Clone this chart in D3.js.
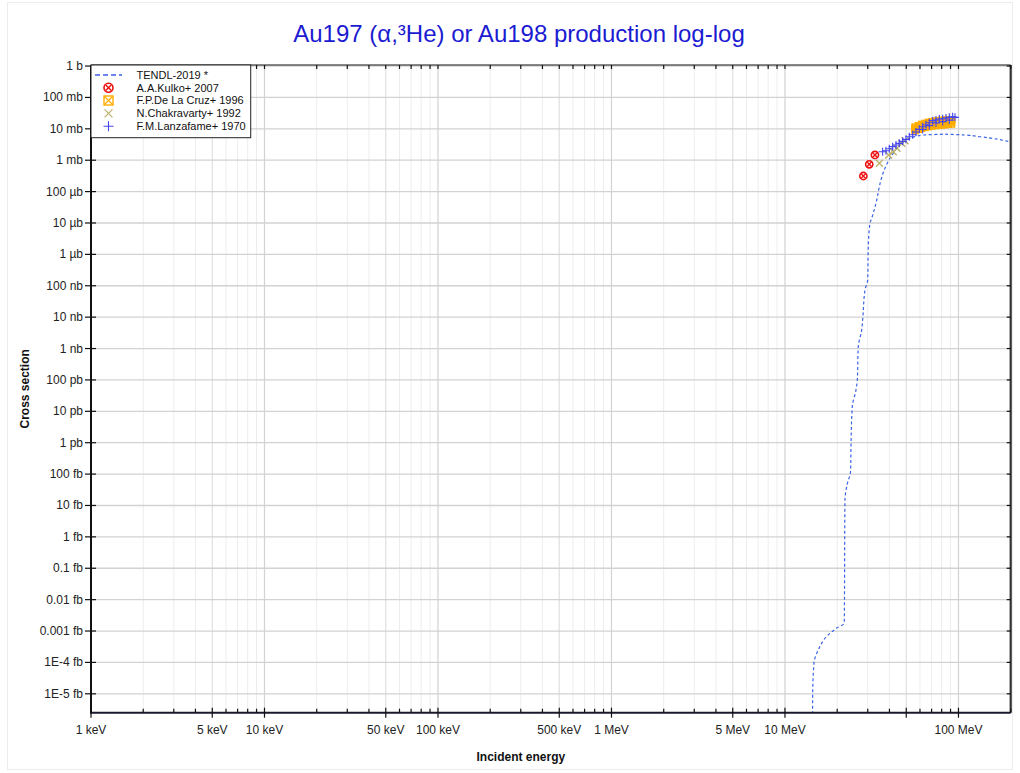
<!DOCTYPE html>
<html><head><meta charset="utf-8">
<script src="https://cdn.jsdelivr.net/npm/d3@7"></script>
<style>
body{margin:0;background:#fff;}
svg{display:block;font-family:"Liberation Sans",Arial,Helvetica,sans-serif;}
</style>
</head><body>
<svg id="chart" width="1020" height="773"></svg>
<script>
// ---------- DATA ----------
const titleText = "Au197 (α,³He) or Au198 production log-log";
const xTickValues = [1e-3, 5e-3, 1e-2, 5e-2, 1e-1, 5e-1, 1, 5, 10, 50, 100]; // MeV
const xTickLabels = ["1 keV","5 keV","10 keV","50 keV","100 keV","500 keV","1 MeV","5 MeV","10 MeV","","100 MeV"];
const yTickValues = [1,1e-1,1e-2,1e-3,1e-4,1e-5,1e-6,1e-7,1e-8,1e-9,1e-10,1e-11,1e-12,1e-13,1e-14,1e-15,1e-16,1e-17,1e-18,1e-19,1e-20]; // barn
const yTickLabels = ["1 b","100 mb","10 mb","1 mb","100 µb","10 µb","1 µb","100 nb","10 nb","1 nb","100 pb","10 pb","1 pb","100 fb","10 fb","1 fb","0.1 fb","0.01 fb","0.001 fb","1E-4 fb","1E-5 fb"];

// TENDL-2019 evaluation (E in MeV, cross section in b)
const tendlE  = [14.42,14.43,14.69,15.56,17.39,19.86,21.97,22.17,22.68,23.91,24.01,24.43,25.66,26.11,26.46,27.68,28.04,28.91,29.97,30.21,30.90,31.6,33.45,35.75,37.7,40.3,43.05,46.0,52.5,62.7,81.7,102,133,198];
const tendlXS = [1e-21,6.4e-21,9.5e-20,2.5e-19,6.7e-19,1.24e-18,1.79e-18,1.51e-14,4.0e-14,1.36e-13,7.5e-13,1.41e-11,4.8e-11,1e-10,1.15e-9,3.9e-9,8.1e-9,7.3e-8,1.53e-7,1.76e-6,9.8e-6,1.41e-5,4.24e-5,2.34e-4,5.6e-4,1.15e-3,2.0e-3,3.05e-3,4.98e-3,6.35e-3,6.83e-3,6.49e-3,5.6e-3,3.88e-3];

// Experimental (E in MeV, cross section in mb)
const kulkoE  = [28.3,30.6,33.0];
const kulkoXS = [0.314,0.74,1.47];

const delacruzE  = [56.15,58.68,61.33,64.10,67.0,70.03,73.19,76.50,79.98,83.58,87.36,91.33,
                    56.15,58.68,61.33,64.10,67.0,70.03,73.19,76.50,79.98,83.58,87.36,91.33,
                    56.15,58.68,61.33,64.10,67.0,70.03,73.19,76.50,79.98,83.58,87.36,91.33];
const delacruzXS = [11.4,12.6,13.9,14.9,16.1,16.9,17.7,18.2,18.6,19.1,19.5,19.5,
                    9.98,11.0,12.0,12.9,13.7,14.4,14.9,15.3,15.7,16.1,16.5,16.7,
                    8.71,9.62,10.4,11.1,11.7,12.3,12.6,12.9,13.2,13.5,13.9,14.2];

const chakravartyE  = [35.0,39.6,42.1,44.2,47.1,49.2];
const chakravartyXS = [0.80,1.47,1.87,2.39,3.45,4.18];

const lanzafameE  = [36.55,38.20,39.93,41.74,43.63,45.60,47.67,49.82,52.08,54.43,56.89,59.47,62.16,64.97,67.91,70.99,74.20,77.55,81.06,84.73,88.57,92.57,95.5,
                     62.16,67.91,74.20,81.06,88.57];
const lanzafameXS = [1.87,2.01,2.33,2.70,3.05,3.45,3.99,4.62,5.61,6.50,7.91,9.62,11.7,13.5,15.7,18.2,19.1,20.5,21.0,22.1,23.2,24.3,23.2,
                     9.5,12.6,15.5,17.0,19.0];

const legendLabels = ["TENDL-2019 *","A.A.Kulko+ 2007","F.P.De La Cruz+ 1996","N.Chakravarty+ 1992","F.M.Lanzafame+ 1970"];

// ---------- LAYOUT ----------
const L = 91, R = 1010.7, T = 65, B = 712.7;
const svg = d3.select("#chart");
const x = d3.scaleLog().domain([1e-3, 200]).range([L, R]);
const y = d3.scaleLog().domain([2.5e-21, 1.08]).range([B, T]);

// outer faint frame
svg.append("rect").attr("x",7.5).attr("y",2.5).attr("width",1005).attr("height",767)
   .attr("fill","none").attr("stroke","#ececec");

// grid
const minorX = [];
for (let p = -3; p <= 2; p++) for (let m = 2; m <= 9; m++) {
  const v = m * Math.pow(10, p);
  if (v <= 200 && m !== 5) minorX.push(v);
}
const g = svg.append("g");
g.selectAll(".gxm").data(minorX).join("line")
  .attr("x1", d => x(d)).attr("x2", d => x(d)).attr("y1", T).attr("y2", B)
  .attr("stroke", "#ededed").attr("stroke-width", 1);
g.selectAll(".gxM").data(xTickValues).join("line")
  .attr("x1", d => x(d)).attr("x2", d => x(d)).attr("y1", T).attr("y2", B)
  .attr("stroke", (d,i) => [1,3,5,7,9].includes(i) ? "#e0e0e0" : "#d2d2d2").attr("stroke-width", 1.2);
g.selectAll(".gy").data(yTickValues).join("line")
  .attr("x1", L).attr("x2", R).attr("y1", d => y(d)).attr("y2", d => y(d))
  .attr("stroke", "#d2d2d2").attr("stroke-width", 1.3);

// clip
svg.append("clipPath").attr("id","clip").append("rect")
  .attr("x", L).attr("y", T).attr("width", R - L).attr("height", B - T);
const plot = svg.append("g").attr("clip-path","url(#clip)");

// TENDL line
const tendl = tendlE.map((e,i) => [e, tendlXS[i]]);
plot.append("path").datum(tendl)
  .attr("d", d3.line().x(d => x(d[0])).y(d => y(d[1])).curve(d3.curveMonotoneY))
  .attr("fill","none").attr("stroke","#3b63e6").attr("stroke-width",1.2)
  .attr("stroke-dasharray","3,2.5");

const mb = v => v * 1e-3;

// markers
function kulkoMarker(sel, r) {
  sel.append("circle").attr("r", r).attr("fill","#fff").attr("stroke","#ee1111").attr("stroke-width",1.6);
  const k = r * 0.62;
  sel.append("path").attr("d",`M${-k},${-k}L${k},${k}M${-k},${k}L${k},${-k}`)
    .attr("stroke","#ee1111").attr("stroke-width",1.4);
}
function squareMarker(sel, s, col) {
  sel.append("rect").attr("x",-s).attr("y",-s).attr("width",2*s).attr("height",2*s)
    .attr("fill","none").attr("stroke",col).attr("stroke-width",1.4);
  sel.append("path").attr("d",`M${-s},${-s}L${s},${s}M${-s},${s}L${s},${-s}`)
    .attr("stroke",col).attr("stroke-width",1.2);
}
function crossMarker(sel, s, col, w) {
  sel.append("path").attr("d",`M${-s},${-s}L${s},${s}M${-s},${s}L${s},${-s}`)
    .attr("stroke",col).attr("stroke-width",w).attr("fill","none");
}
function plusMarker(sel, s, col, w) {
  sel.append("path").attr("d",`M${-s},0L${s},0M0,${-s}L0,${s}`)
    .attr("stroke",col).attr("stroke-width",w).attr("fill","none");
}

const kulko = kulkoE.map((e,i)=>[e,kulkoXS[i]]);
plot.selectAll(".ku").data(kulko).join("g")
  .attr("transform", d => `translate(${x(d[0])},${y(mb(d[1]))})`)
  .each(function(){ kulkoMarker(d3.select(this), 3.6); });

const dlc = delacruzE.map((e,i)=>[e,delacruzXS[i]]);
plot.selectAll(".dl").data(dlc).join("g")
  .attr("transform", d => `translate(${x(d[0])},${y(mb(d[1]))})`)
  .each(function(){ squareMarker(d3.select(this), 3, "#ffad00"); });

const chak = chakravartyE.map((e,i)=>[e,chakravartyXS[i]]);
plot.selectAll(".ch").data(chak).join("g")
  .attr("transform", d => `translate(${x(d[0])},${y(mb(d[1]))})`)
  .each(function(){ crossMarker(d3.select(this), 3.5, "#bdb36a", 1.4); });

const lanz = lanzafameE.map((e,i)=>[e,lanzafameXS[i]]);
plot.selectAll(".la").data(lanz).join("g")
  .attr("transform", d => `translate(${x(d[0])},${y(mb(d[1]))})`)
  .each(function(){ plusMarker(d3.select(this), 4, "#4646f0", 1.1); });

// axes frame
svg.append("line").attr("x1",L).attr("x2",R).attr("y1",T).attr("y2",T).attr("stroke","#111").attr("stroke-width",1.2);
svg.append("line").attr("x1",R).attr("x2",R).attr("y1",T).attr("y2",B).attr("stroke","#333").attr("stroke-width",2.2);
svg.append("line").attr("x1",L).attr("x2",L).attr("y1",T).attr("y2",B+1).attr("stroke","#111").attr("stroke-width",2);
svg.append("line").attr("x1",L).attr("x2",R).attr("y1",B).attr("y2",B).attr("stroke","#1a1a2e").attr("stroke-width",2);

// ticks
const tk = svg.append("g").attr("stroke","#111").attr("stroke-width",1.2);
tk.selectAll(".bM").data(xTickValues).join("line")
  .attr("x1",d=>x(d)).attr("x2",d=>x(d)).attr("y1",B-5).attr("y2",B+5);
tk.selectAll(".bm").data(minorX).join("line")
  .attr("x1",d=>x(d)).attr("x2",d=>x(d)).attr("y1",B-4).attr("y2",B);
tk.selectAll(".tM").data(xTickValues.concat(minorX)).join("line")
  .attr("x1",d=>x(d)).attr("x2",d=>x(d)).attr("y1",T).attr("y2",T+4);
tk.selectAll(".lM").data(yTickValues).join("line")
  .attr("x1",L-6).attr("x2",L+5).attr("y1",d=>y(d)).attr("y2",d=>y(d));
tk.selectAll(".rM").data(yTickValues).join("line")
  .attr("x1",R-4).attr("x2",R).attr("y1",d=>y(d)).attr("y2",d=>y(d));

// tick labels
svg.selectAll(".xl").data(xTickValues).join("text")
  .attr("x",d=>x(d)).attr("y",734).attr("text-anchor","middle")
  .attr("font-size",12).attr("fill","#222").text((d,i)=>xTickLabels[i]);
svg.selectAll(".yl").data(yTickValues).join("text")
  .attr("x",83).attr("y",d=>y(d)+4).attr("text-anchor","end")
  .attr("font-size",12).attr("fill","#222").text((d,i)=>yTickLabels[i]);

// axis titles
svg.append("text").attr("x",(L+R)/2 - 30).attr("y",761).attr("text-anchor","middle")
  .attr("font-size",12).attr("font-weight","bold").attr("fill","#111").text("Incident energy");
svg.append("text").attr("transform",`translate(29,${(T+B)/2})rotate(-90)`).attr("text-anchor","middle")
  .attr("font-size",12).attr("font-weight","bold").attr("fill","#111").text("Cross section");

// title
svg.append("text").attr("x",519).attr("y",42).attr("text-anchor","middle")
  .attr("font-size",24).attr("fill","#1b1bd2").text(titleText);

// legend
const lg = svg.append("g");
lg.append("rect").attr("x",91).attr("y",65).attr("width",159.7).attr("height",72.7)
  .attr("fill","#fff").attr("stroke","#222").attr("stroke-width",1);
const rowY = [75, 87.7, 100.5, 113.3, 126.3];
lg.append("line").attr("x1",95).attr("x2",122).attr("y1",rowY[0]).attr("y2",rowY[0])
  .attr("stroke","#3b63e6").attr("stroke-width",1.6).attr("stroke-dasharray","5,3");
kulkoMarker(lg.append("g").attr("transform",`translate(108.5,${rowY[1]})`), 4.5);
squareMarker(lg.append("g").attr("transform",`translate(108.5,${rowY[2]})`), 4.5, "#ffad00");
crossMarker(lg.append("g").attr("transform",`translate(108.5,${rowY[3]})`), 4, "#bdb36a", 1.2);
plusMarker(lg.append("g").attr("transform",`translate(108.5,${rowY[4]})`), 5, "#4646f0", 1.1);
lg.selectAll(".lt").data(legendLabels).join("text")
  .attr("x",136.5).attr("y",(d,i)=>rowY[i]+3.9).attr("font-size",11).attr("fill","#111")
  .text(d=>d);
</script>
</body></html>
